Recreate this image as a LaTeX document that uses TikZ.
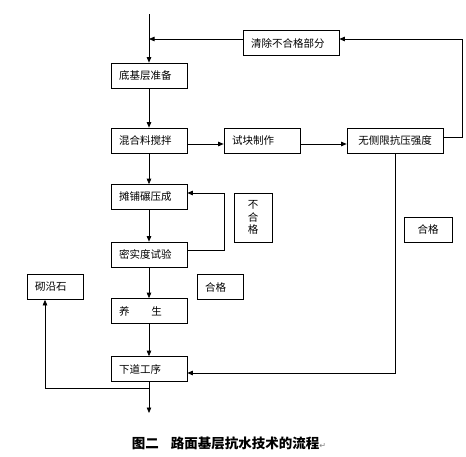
\documentclass[tikz,border=0pt]{standalone}
\usepackage{fontspec}
\newfontfamily\cjk{Noto Sans CJK SC}
\newfontfamily\symfont{DejaVu Sans}
\usetikzlibrary{arrows.meta}
\tikzset{
box/.style={draw,line width=0.7pt,minimum height=25pt,inner xsep=8pt,inner ysep=2pt,
  font=\cjk\fontsize{10.5}{12.5}\selectfont,align=left,text width=60pt},
wide/.style={text width=80pt},
flow/.style={line width=0.7pt,-{Triangle[length=5.5pt,width=4.5pt]}},
link/.style={line width=0.7pt}
}

\begin{document}
\begin{tikzpicture}[x=1pt,y=-1pt]
\useasboundingbox (0,0) rectangle (466,456);
\node[box,wide] (qc) at (291,43) {清除不合格部分};
\node[box] (dj) at (149,75.5) {底基层准备};
\node[box] (hh) at (149,140.5) {混合料搅拌};
\node[box] (sk) at (262,140.5) {试块制作};
\node[box,wide,align=center] (wc) at (395,140.5) {无侧限抗压强度};
\node[box] (tp) at (149,197) {摊铺碾压成};
\node[box] (ms) at (149,254.5) {密实度试验};
\node[box,text width=22pt,align=center,minimum height=49pt] (bhg) at (253,217.5) {不\\合\\格};
\node[box,text width=32pt,align=center] (hg1) at (428,229.5) {合格};
\node[box,text width=40pt] (qy) at (55,287) {砌沿石};
\node[box,text width=30pt] (hg2) at (220,287) {合格};
\node[box] (ys) at (149,311) {养\hspace{22pt}生};
\node[box] (xd) at (149,369) {下道工序};
\coordinate (top) at (149,14);
\coordinate (turn) at (149,388);
\coordinate (end) at (149,413);

\draw[flow] (top) -- (dj);
\draw[flow] ([yshift=4pt]qc.west) -- ([yshift=4pt]qc.west -| top);
\draw[flow] ([yshift=3.5pt]wc.east) -- ++(19,0) |- ([yshift=4pt]qc.east);
\draw[flow] (dj) -- (hh);
\draw[flow] ([yshift=-3.5pt]hh.east) -- ([yshift=-3.5pt]sk.west);
\draw[flow] ([yshift=-3.5pt]sk.east) -- ([yshift=-3.5pt]wc.west);
\draw[flow] (hh) -- (tp);
\draw[flow] (tp) -- (ms);
\draw[flow] ([yshift=4.5pt]ms.east) -- ++(37,0) |- ([yshift=4pt]tp.east);
\draw[flow] (ms) -- (ys);
\draw[flow] (ys) -- (xd);
\draw[flow] (wc.south) |- ([yshift=-4pt]xd.east);
\draw[link] (xd) -- (turn);
\draw[flow] (turn) -| ([xshift=-10pt]qy.south);
\draw[flow] (turn) -- (end);

\node[font=\cjk\bfseries\fontsize{13.5}{15}\selectfont] (cap) at (229,443)
  {图二\hspace{0.9em}路面基层抗水技术的流程{\symfont\mdseries\fontsize{8}{8}\selectfont\color{gray}↵}};
\end{tikzpicture}
\end{document}
